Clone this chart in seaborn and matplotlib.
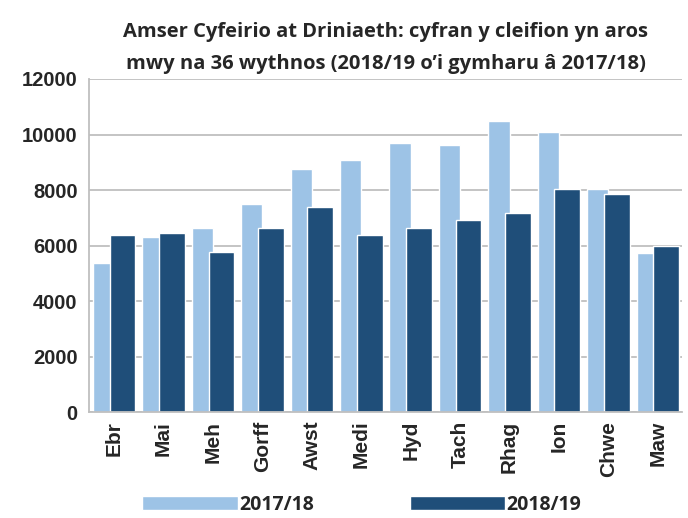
import numpy as np
import pandas as pd
import seaborn as sns
import matplotlib.pyplot as plt

# Data
months = ['Ebr', 'Mai', 'Meh', 'Gorff', 'Awst', 'Medi',
          'Hyd', 'Tach', 'Rhag', 'Ion', 'Chwe', 'Maw']
values_2017_18 = [5390, 6310, 6650, 7510, 8760, 9090,
                  9700, 9620, 10490, 10090, 8030, 5720]
values_2018_19 = [6380, 6440, 5780, 6650, 7380, 6380,
                  6650, 6910, 7180, 8040, 7850, 5990]
years = ['2017/18', '2018/19']
yticks = [0, 2000, 4000, 6000, 8000, 10000, 12000]

df = pd.DataFrame({
    'Mis': months * 2,
    'Nifer': values_2017_18 + values_2018_19,
    'Blwyddyn': [years[0]] * 12 + [years[1]] * 12,
})

sns.set_style('white')
plt.rcParams['font.family'] = ['Liberation Sans', 'DejaVu Sans']
title_font = ['Open Sans', 'DejaVu Sans']

fig = plt.figure(figsize=(6.88, 5.18), dpi=100)
ax = fig.add_axes([0.13, 0.204, 0.862, 0.6435])

sns.barplot(data=df, x='Mis', y='Nifer', hue='Blwyddyn', hue_order=years,
            palette=['#9DC3E6', '#1F4E79'], width=0.86, saturation=1,
            ax=ax)

# Excel-style overlap: the 2018/19 bars are wider and sit over the 2017/18 ones
for bar in ax.containers[1]:
    right = bar.get_x() + bar.get_width()
    bar.set_width(0.52)
    bar.set_x(right - 0.52)

handles, labels = ax.get_legend_handles_labels()
ax.get_legend().remove()

ax.set_xlim(-0.5, 11.5)
ax.set_ylim(0, 12000)
ax.set_yticks(yticks)
ax.set_xticks(np.arange(-0.5, 12, 1), minor=True)
ax.yaxis.grid(True, color='#BFBFBF', linewidth=1.3)
ax.set_axisbelow(True)
for side in ['top', 'right']:
    ax.spines[side].set_visible(False)
for side in ['left', 'bottom']:
    ax.spines[side].set_color('#BFBFBF')
    ax.spines[side].set_linewidth(1.3)

ax.tick_params(axis='y', length=5, color='#BFBFBF', width=1.3, labelsize=14.5)
ax.tick_params(axis='x', which='major', length=0, labelsize=15, labelrotation=90, pad=6)
ax.tick_params(axis='x', which='minor', length=7, color='#BFBFBF', width=1.3)
for lab in ax.get_xticklabels() + ax.get_yticklabels():
    lab.set_fontweight('bold')
ax.set_xlabel('')
ax.set_ylabel('')

ax.set_title('Amser Cyfeirio at Driniaeth: cyfran y cleifion yn aros\n'
             'mwy na 36 wythnos (2018/19 o’i gymharu â 2017/18)',
             fontfamily=title_font, fontweight='bold',
             fontsize=14.5, linespacing=1.8, pad=7)

fig.legend(handles, labels, loc='lower center', bbox_to_anchor=(0.526, 0.006),
           ncol=2, frameon=False, borderaxespad=0, borderpad=0,
           handlelength=4.9, handleheight=0.68, handletextpad=0.1,
           columnspacing=4.9,
           prop={'family': title_font, 'weight': 'bold', 'size': 14})

fig.savefig('out.png', dpi=100)
